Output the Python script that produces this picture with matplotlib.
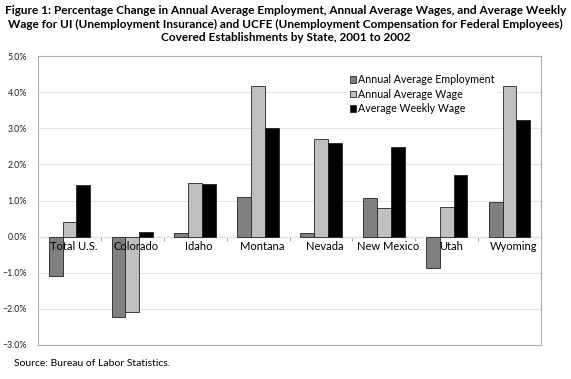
import matplotlib
matplotlib.use("Agg")
import matplotlib.pyplot as plt
import matplotlib.transforms as mtransforms
import numpy as np
from matplotlib.ticker import FixedLocator, PercentFormatter

categories = ["Total U.S.", "Colorado", "Idaho", "Montana", "Nevada", "New Mexico", "Utah", "Wyoming"]
employment = [-1.10, -2.22, 0.09, 1.09, 0.11, 1.08, -0.87, 0.96]
annual_wage = [0.40, -2.08, 1.49, 4.18, 2.69, 0.80, 0.82, 4.17]
weekly_wage = [1.42, 0.13, 1.47, 3.01, 2.60, 2.48, 1.70, 3.24]
series_names = ["Annual Average Employment", "Annual Average Wage", "Average Weekly Wage"]
series_colors = ["#808080", "#c0c0c0", "#000000"]
yticks = [-3, -2, -1, 0, 1, 2, 3, 4, 5]

plt.rcParams['font.family'] = ['Lato', 'DejaVu Sans']

fig = plt.figure(figsize=(5.71, 3.79), dpi=100)
ax = fig.add_axes([38/571, 1-345/379, (541-38)/571, (345-56)/379])

x = np.arange(len(categories))
w = 0.22
for k, (vals, name, col) in enumerate(zip([employment, annual_wage, weekly_wage], series_names, series_colors)):
    ax.bar(x + (k-1)*w, vals, width=w, color=col, edgecolor="#222222", linewidth=0.6, label=name, zorder=3)

ax.set_xlim(-0.5, len(categories)-0.5)
ax.set_ylim(-3, 5)
ax.set_yticks(yticks)
ax.yaxis.set_major_formatter(PercentFormatter(decimals=1))
ax.tick_params(axis='y', length=0, labelsize=6.3, pad=8, labelcolor="#222222")
ax.grid(axis='y', color="#e4e4e4", linewidth=0.8, zorder=0)
ax.set_xticks([])
for s in ax.spines.values():
    s.set_color("#b0b0b0")
    s.set_linewidth(0.8)

sec = ax.secondary_xaxis(3/8)
sec.set_xticks(x)
sec.set_xticklabels([])
sec.xaxis.set_minor_locator(FixedLocator(x[:-1] + 0.5))
sec.tick_params(axis='x', which='major', length=0)
sec.tick_params(axis='x', which='minor', length=3, color="#999999", width=0.6)
sec.spines['bottom'].set_color("#999999")
sec.spines['bottom'].set_linewidth(0.8)

lab_tr = mtransforms.offset_copy(ax.transData, fig=fig, x=4, y=-4, units='dots')
for xi, cat in zip(x, categories):
    ax.text(xi, 0, cat, transform=lab_tr, ha='center', va='top', fontsize=8, zorder=10)

leg = ax.legend(loc='upper left', bbox_to_anchor=(0.603, 0.967), frameon=True, fontsize=7.7,
                handlelength=0.6, handleheight=0.6, handletextpad=0.2, labelspacing=0.34,
                borderpad=0.3, fancybox=False, edgecolor="none", facecolor="white", framealpha=1)

fig.text(0.5, 1-5/379, "Figure 1: Percentage Change in Annual Average Employment, Annual Average Wages, and Average Weekly\n"
         "Wage for UI (Unemployment Insurance) and UCFE (Unemployment Compensation for Federal Employees)\n"
         "Covered Establishments by State, 2001 to 2002",
         ha='center', va='top', fontsize=8.5, fontweight='bold', linespacing=1.3)
fig.text(14/571, 1-363/379, "Source: Bureau of Labor Statistics.", ha='left', va='center', fontsize=7.5)

fig.savefig("out.png", dpi=100)
